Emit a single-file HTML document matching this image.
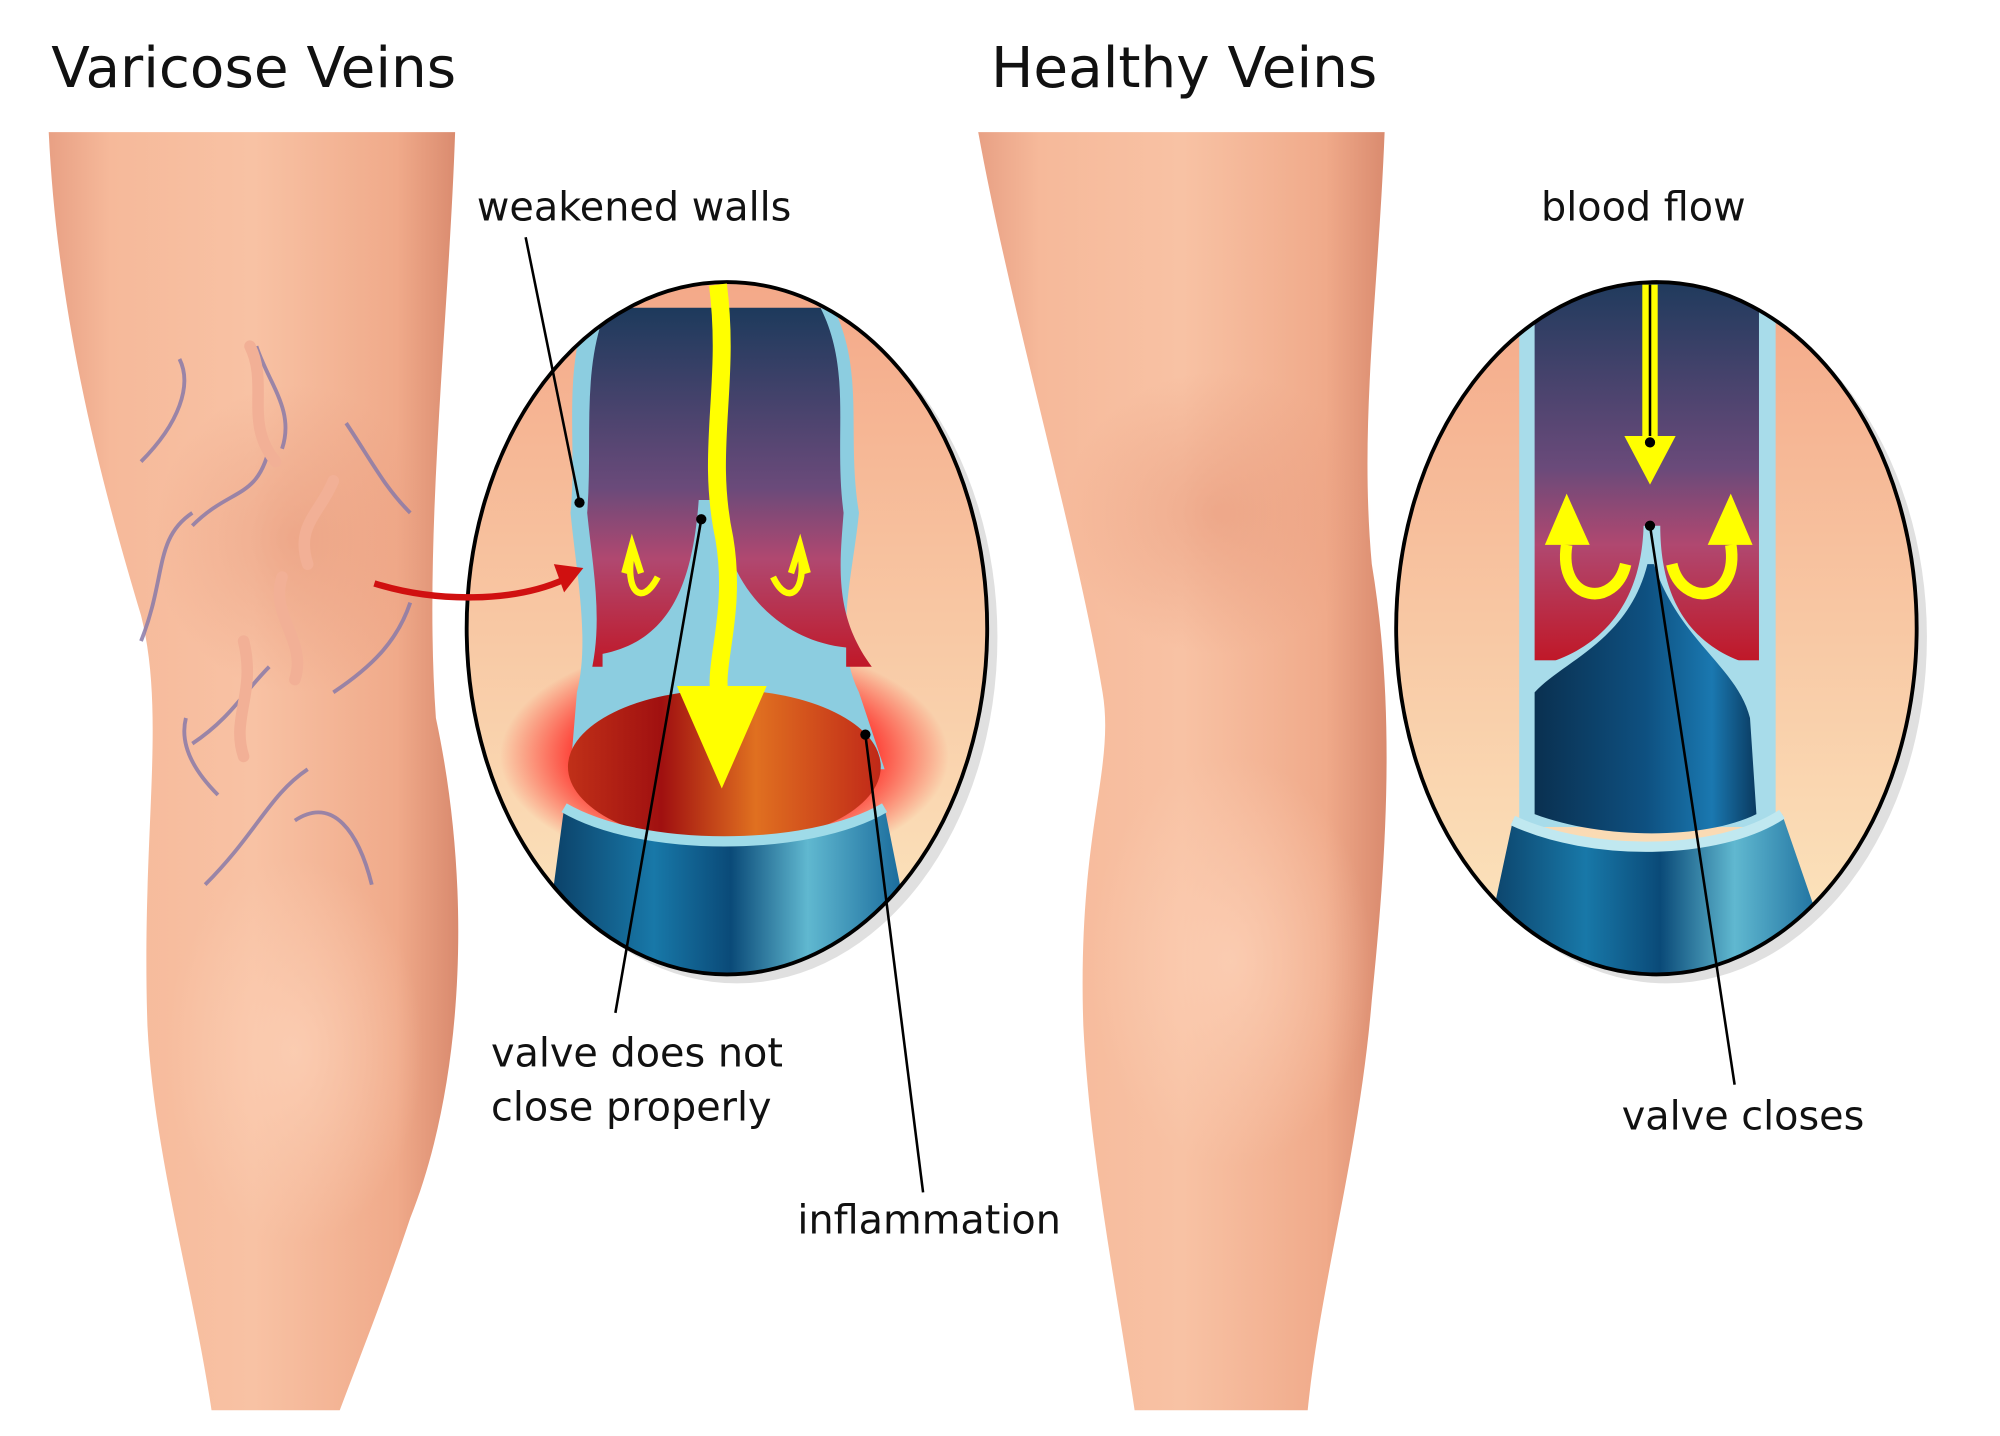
<!DOCTYPE html>
<html><head><meta charset="utf-8"><style>
html,body{margin:0;padding:0;background:#fff;width:2000px;height:1436px;overflow:hidden}
svg{display:block}
text{font-family:"DejaVu Sans","Liberation Sans",sans-serif;fill:#111}
</style></head><body>
<svg width="2000" height="1436" viewBox="0 0 1560 1120" xmlns="http://www.w3.org/2000/svg">
<defs>
<linearGradient id="leg" x1="0" x2="1" y1="0" y2="0">
<stop offset="0" stop-color="#e8a084"/><stop offset="0.15" stop-color="#f6b99a"/><stop offset="0.5" stop-color="#f8c2a4"/><stop offset="0.85" stop-color="#f0aa8a"/><stop offset="1" stop-color="#d98a6e"/></linearGradient>
<radialGradient id="knee" cx="0.5" cy="0.5" r="0.5"><stop offset="0" stop-color="#e89a7c" stop-opacity="0.6"/><stop offset="1" stop-color="#e89a7c" stop-opacity="0"/></radialGradient>
<radialGradient id="calf" cx="0.5" cy="0.5" r="0.5"><stop offset="0" stop-color="#fcd0b6" stop-opacity="0.8"/><stop offset="1" stop-color="#fcd0b6" stop-opacity="0"/></radialGradient>
<linearGradient id="bg" x1="0" x2="0" y1="0" y2="1"><stop offset="0" stop-color="#f4a888"/><stop offset="1" stop-color="#fce8c0"/></linearGradient>
<linearGradient id="blood" x1="0" x2="0" y1="0" y2="1"><stop offset="0" stop-color="#1d3a5c"/><stop offset="0.5" stop-color="#6a4a7a"/><stop offset="0.7" stop-color="#b04870"/><stop offset="1" stop-color="#c01828"/></linearGradient>
<linearGradient id="pool" x1="0" x2="1"><stop offset="0" stop-color="#c03018"/><stop offset="0.3" stop-color="#a01010"/><stop offset="0.6" stop-color="#e07020"/><stop offset="1" stop-color="#c02818"/></linearGradient>
<linearGradient id="lower" x1="0" x2="1"><stop offset="0" stop-color="#0a3a60"/><stop offset="0.3" stop-color="#1878a8"/><stop offset="0.5" stop-color="#0a4a78"/><stop offset="0.7" stop-color="#60b8d0"/><stop offset="1" stop-color="#0a5a90"/></linearGradient>
<linearGradient id="lowerH" x1="0" x2="1"><stop offset="0" stop-color="#0a3050"/><stop offset="0.5" stop-color="#0e5080"/><stop offset="0.8" stop-color="#1a78b0"/><stop offset="1" stop-color="#0a3a60"/></linearGradient>
<radialGradient id="glow" cx="0.5" cy="0.5" r="0.5"><stop offset="0.6" stop-color="#ff1010" stop-opacity="0.9"/><stop offset="1" stop-color="#ff1010" stop-opacity="0"/></radialGradient>
<clipPath id="c1"><ellipse cx="567" cy="490" rx="203" ry="270"/></clipPath>
<clipPath id="c2"><ellipse cx="1292" cy="490" rx="203" ry="270"/></clipPath>
</defs>
<text x="40" y="68" font-size="44">Varicose Veins</text>
<text x="773" y="68" font-size="44">Healthy Veins</text>
<!-- left leg -->
<path d="M38,103 L355,103 C350,250 330,420 340,560 C370,700 360,850 320,950 C300,1010 280,1060 265,1100 L165,1100 C150,1000 120,900 115,800 C110,650 130,560 110,480 C80,380 45,250 38,103 Z" fill="url(#leg)"/>
<ellipse cx="230" cy="420" rx="110" ry="120" fill="url(#knee)"/>
<ellipse cx="230" cy="820" rx="100" ry="150" fill="url(#calf)"/>
<g fill="none" stroke="#8a7aa8" stroke-width="3" opacity="0.85">
<path d="M110,500 C130,450 120,420 150,400 M150,410 C180,380 200,390 210,350 M110,360 C140,330 150,300 140,280 M150,580 C180,560 190,540 210,520 M160,690 C200,650 210,620 240,600 M230,640 C260,620 280,650 290,690 M260,540 C290,520 310,500 320,470 M270,330 C290,360 300,380 320,400 M200,270 C210,300 230,320 220,350 M170,620 C150,600 140,580 145,560"/>
</g>
<g fill="none" stroke="#f2b096" stroke-width="9" stroke-linecap="round">
<path d="M195,270 C210,300 190,330 215,360 M260,375 C250,400 230,410 240,440 M220,450 C210,480 240,500 230,530 M190,500 C200,540 180,560 190,590"/>
</g>
<!-- right leg -->
<path d="M763,103 L1080,103 C1075,230 1060,330 1070,440 C1090,560 1080,680 1070,780 C1060,900 1030,1000 1020,1100 L885,1100 C870,1000 850,900 845,800 C840,650 870,600 860,540 C840,420 790,250 763,103 Z" fill="url(#leg)"/>
<ellipse cx="950" cy="400" rx="120" ry="110" fill="url(#knee)"/>
<ellipse cx="960" cy="750" rx="110" ry="160" fill="url(#calf)"/>
<!-- left circle -->
<ellipse cx="575" cy="497" rx="203" ry="270" fill="#000" opacity="0.12"/>
<g clip-path="url(#c1)">
<rect x="360" y="215" width="420" height="550" fill="url(#bg)"/>
<ellipse cx="565" cy="590" rx="175" ry="90" fill="url(#glow)"/>
<path d="M455,250 C440,300 450,350 445,400 C450,450 460,500 450,540 L445,600 L690,600 L670,540 C650,500 665,450 670,400 C660,340 675,290 650,240 Z" fill="#8ccde0"/>
<path d="M468,255 C455,300 462,350 458,400 C462,440 470,480 462,520 L680,520 C650,480 655,440 658,400 C650,340 665,290 640,240 L470,240 Z" fill="url(#blood)"/>
<path d="M545,390 C540,460 520,500 470,510 L470,525 L660,525 L660,505 C610,500 565,460 560,390 Z" fill="#8ccde0"/>
<ellipse cx="565" cy="598" rx="122" ry="60" fill="url(#pool)"/>
<path d="M440,630 C500,665 630,665 690,630 L720,780 L420,780 Z" fill="url(#lower)"/>
<path d="M440,630 C500,665 630,665 690,630" stroke="#9fdbe8" stroke-width="8" fill="none"/>
</g>
<ellipse cx="567" cy="490" rx="203" ry="270" fill="none" stroke="#000" stroke-width="3"/>
<path d="M560,222 C570,300 550,350 565,420 C575,480 555,520 562,545" stroke="#ffff00" stroke-width="14" fill="none"/>
<path d="M528,535 L598,535 L563,615 Z" fill="#ffff00"/>
<path d="M487,447 L493,425 L500,447 M493,430 C487,460 500,475 513,450" stroke="#ffff00" stroke-width="5" fill="none"/>
<path d="M617,447 L624,425 L630,447 M624,430 C630,460 615,475 603,450" stroke="#ffff00" stroke-width="5" fill="none"/>
<path d="M292,455 C340,470 400,470 440,452" stroke="#d01010" stroke-width="5" fill="none"/>
<path d="M432,440 L455,443 L440,462 Z" fill="#d01010"/>
<!-- right circle -->
<ellipse cx="1300" cy="497" rx="203" ry="270" fill="#000" opacity="0.12"/>
<g clip-path="url(#c2)">
<rect x="1085" y="215" width="420" height="550" fill="url(#bg)"/>
<rect x="1185" y="215" width="200" height="430" fill="#a8dcea"/>
<rect x="1197" y="215" width="175" height="300" fill="url(#blood)"/>
<path d="M1282,410 C1280,480 1240,510 1197,520 L1197,640 L1372,640 L1372,520 C1330,510 1295,480 1295,410 Z" fill="#a8dcea"/>
<path d="M1285,440 C1270,500 1220,515 1197,540 L1197,635 C1250,655 1330,655 1370,635 L1365,560 C1355,520 1310,500 1290,440 Z" fill="url(#lowerH)"/>
<path d="M1180,640 C1240,668 1340,668 1390,635 L1440,780 L1150,780 Z" fill="url(#lower)"/>
<path d="M1180,640 C1240,668 1340,668 1390,635" stroke="#c0e8f0" stroke-width="8" fill="none"/>
</g>
<ellipse cx="1292" cy="490" rx="203" ry="270" fill="none" stroke="#000" stroke-width="3"/>
<rect x="1281" y="222" width="12" height="120" fill="#ffff00"/>
<line x1="1287" y1="222" x2="1287" y2="345" stroke="#000" stroke-width="2"/>
<path d="M1267,340 L1307,340 L1287,378 Z" fill="#ffff00"/>
<path d="M1222,425 C1215,470 1260,475 1268,440" stroke="#ffff00" stroke-width="9" fill="none"/>
<path d="M1205,425 L1222,385 L1240,425 Z" fill="#ffff00"/>
<path d="M1350,425 C1357,470 1312,475 1304,440" stroke="#ffff00" stroke-width="9" fill="none"/>
<path d="M1332,425 L1350,385 L1367,425 Z" fill="#ffff00"/>
<!-- labels -->
<g stroke="#000" stroke-width="2" fill="none">
<line x1="410" y1="185" x2="452" y2="392"/>
<line x1="547" y1="405" x2="480" y2="790"/>
<line x1="675" y1="573" x2="720" y2="930"/>
<line x1="1287" y1="410" x2="1353" y2="846"/>
</g>
<g fill="#000"><circle cx="452" cy="392" r="4"/><circle cx="547" cy="405" r="4"/><circle cx="675" cy="573" r="4"/><circle cx="1287" cy="410" r="4"/><circle cx="1287" cy="345" r="4"/></g>
<text x="372" y="172" font-size="31">weakened walls</text>
<text x="1202" y="172" font-size="31">blood flow</text>
<text x="383" y="832" font-size="31">valve does not</text>
<text x="383" y="874" font-size="31">close properly</text>
<text x="622" y="962" font-size="31">inflammation</text>
<text x="1265" y="881" font-size="31">valve closes</text>
</svg>
</body></html>
